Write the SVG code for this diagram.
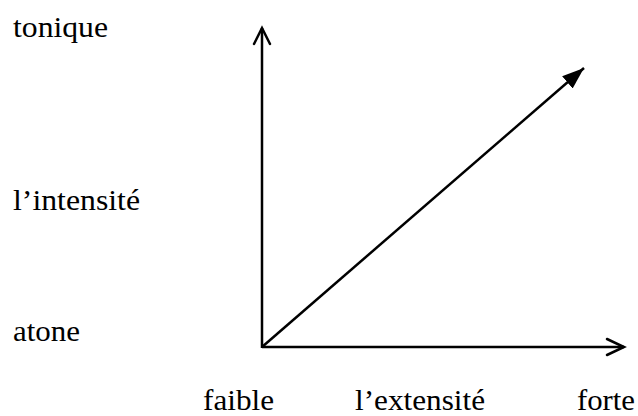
<svg xmlns="http://www.w3.org/2000/svg" width="638" height="416" viewBox="0 0 638 416">
<style>
.lbl{font-family:"Liberation Serif","Times New Roman","DejaVu Serif",serif;font-size:30px;fill:#000}
.ax{stroke:#000;stroke-width:2.5;fill:none}
.open{stroke:#000;stroke-width:2.5;fill:none;stroke-linecap:round;stroke-linejoin:miter}
</style>
<defs>
<marker id="fill" markerUnits="userSpaceOnUse" markerWidth="24" markerHeight="20" refX="22" refY="10" orient="auto" viewBox="0 0 24 20"><path d="M0,2 L22,10 L0,18 Z" fill="#000"/></marker>
</defs>
<rect width="638" height="416" fill="#fff"/>
<g id="connectors">
<line class="ax" x1="262" y1="348" x2="262" y2="28"/>
<path class="open" d="M254,44 L262,28 L270,44"/>
<line class="ax" x1="262" y1="347" x2="624" y2="347"/>
<path class="open" d="M607,339 L624,347 L607,355"/>
<line class="ax" x1="262" y1="347" x2="584" y2="68" marker-end="url(#fill)"/>
</g>
<g id="n-tonique"><text class="lbl" x="13" y="37" textLength="95" lengthAdjust="spacingAndGlyphs">tonique</text></g>
<g id="n-intensite"><text class="lbl" x="13" y="210" textLength="127" lengthAdjust="spacingAndGlyphs">l’intensité</text></g>
<g id="n-atone"><text class="lbl" x="13" y="341" textLength="67" lengthAdjust="spacingAndGlyphs">atone</text></g>
<g id="n-faible"><text class="lbl" x="203" y="410" textLength="71" lengthAdjust="spacingAndGlyphs">faible</text></g>
<g id="n-extensite"><text class="lbl" x="355" y="410" textLength="130" lengthAdjust="spacingAndGlyphs">l’extensité</text></g>
<g id="n-forte"><text class="lbl" x="577" y="410" textLength="58" lengthAdjust="spacingAndGlyphs">forte</text></g>
</svg>
